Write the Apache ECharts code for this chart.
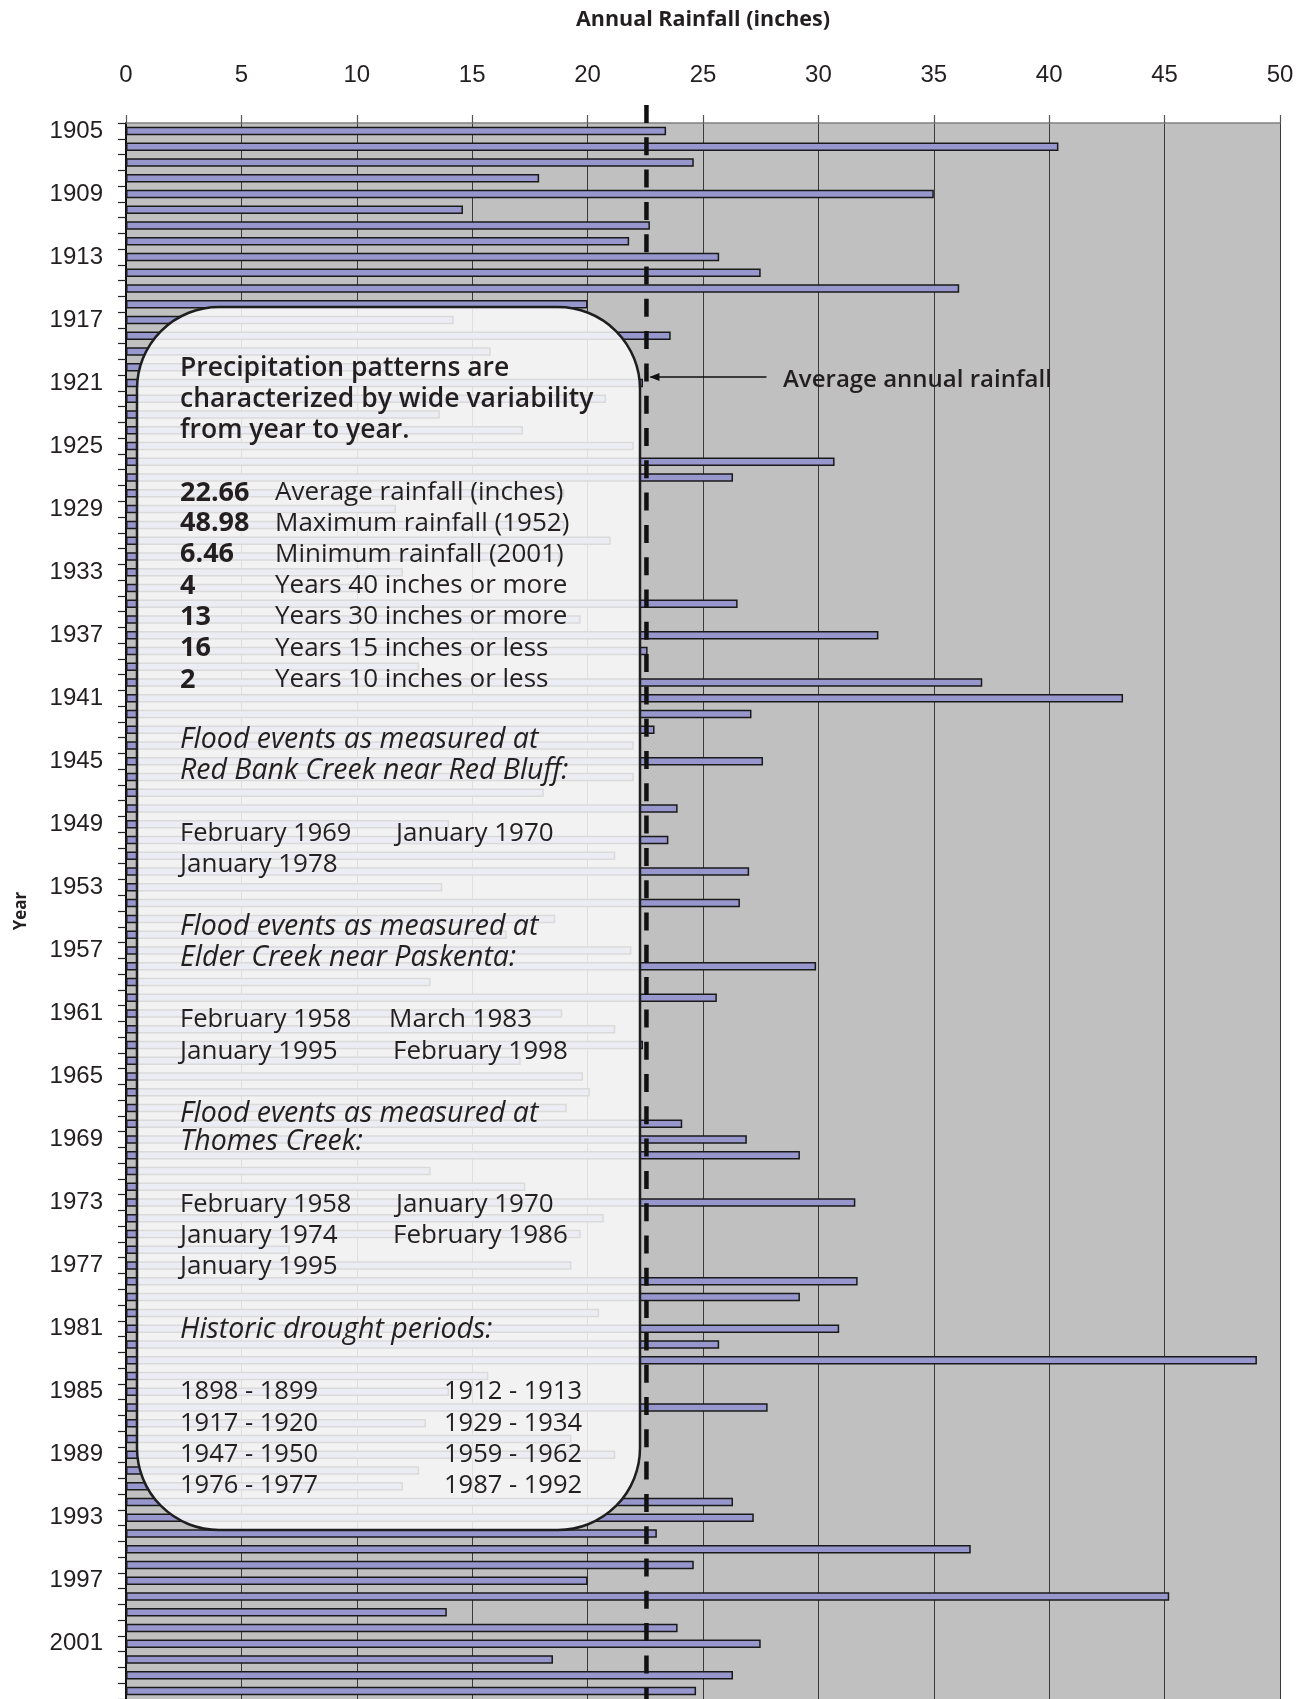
<!DOCTYPE html>
<html>
<head>
<meta charset="utf-8">
<script src="https://cdn.jsdelivr.net/npm/echarts/dist/echarts.min.js"></script>
<style>
html,body{margin:0;padding:0;background:#ffffff;}
#chart{width:1307px;height:1699px;}
</style>
</head>
<body>
<div id="chart"></div>
<script>
// ---------------- DATA ----------------
const years = ['1905','1906','1907','1908','1909','1910','1911','1912','1913','1914',
'1915','1916','1917','1918','1919','1920','1921','1922','1923','1924',
'1925','1926','1927','1928','1929','1930','1931','1932','1933','1934',
'1935','1936','1937','1938','1939','1940','1941','1942','1943','1944',
'1945','1946','1947','1948','1949','1950','1951','1952','1953','1954',
'1955','1956','1957','1958','1959','1960','1961','1962','1963','1964',
'1965','1966','1967','1968','1969','1970','1971','1972','1973','1974',
'1975','1976','1977','1978','1979','1980','1981','1982','1983','1984',
'1985','1986','1987','1988','1989','1990','1991','1992','1993','1994',
'1995','1996','1997','1998','1999','2000','2001','2002','2003','2004'];

const rainfall = [23.4,40.4,24.6,17.9,35.0,14.6,22.7,21.8,25.7,27.5,
36.1,20.0,14.2,23.6,15.8,12.0,22.4,20.8,13.6,17.2,
22.0,30.7,26.3,19.0,11.7,19.0,21.0,18.8,12.0,10.5,
26.5,19.7,32.6,22.6,12.7,37.1,43.2,27.1,22.9,22.0,
27.6,22.0,18.1,23.9,14.0,23.5,21.2,27.0,13.7,26.6,
18.6,16.5,21.9,29.9,13.2,25.6,18.9,21.2,22.4,17.1,
19.8,20.1,19.1,24.1,26.9,29.2,13.2,17.3,31.6,20.7,
19.7,7.1,19.3,31.7,29.2,20.5,30.9,25.7,49.0,15.7,
14.0,27.8,13.0,19.3,21.2,12.7,12.0,26.3,27.2,23.0,
36.6,24.6,20.0,45.2,13.9,23.9,27.5,18.5,26.3,24.7];

const xMin = 0, xMax = 50, xStep = 5;
const averageLineValue = 22.55;   // where the dashed average line is drawn

const annotationText = 'Average annual rainfall';
const headerLines = ['Precipitation patterns are','characterized by wide variability','from year to year.'];
const statNumbers = ['22.66','48.98','6.46','4','13','16','2'];
const statLabels = ['Average rainfall (inches)','Maximum rainfall (1952)','Minimum rainfall (2001)',
  'Years 40 inches or more','Years 30 inches or more','Years 15 inches or less','Years 10 inches or less'];
const redBankTitle = ['Flood events as measured at','Red Bank Creek near Red Bluff:'];
const redBankEvents = [['February 1969','January 1970'],['January 1978','']];
const elderTitle = ['Flood events as measured at','Elder Creek near Paskenta:'];
const elderEvents = [['February 1958','March 1983'],['January 1995','February 1998']];
const thomesTitle = ['Flood events as measured at','Thomes Creek:'];
const thomesEvents = [['February 1958','January 1970'],['January 1974','February 1986'],['January 1995','']];
const droughtTitle = 'Historic drought periods:';
const droughtPeriods = [['1898 - 1899','1912 - 1913'],['1917 - 1920','1929 - 1934'],['1947 - 1950','1959 - 1962'],['1976 - 1977','1987 - 1992']];

// ---------------- CHART ----------------
const chart = echarts.init(document.getElementById('chart'), null, {renderer:'canvas', width:1307, height:1699});
const TXT = '#231f20';
const tickFont = '"Liberation Sans", Arial, sans-serif';
const boxFont = '"Open Sans", "Noto Sans", sans-serif';

const option = {
  animation:false,
  backgroundColor:'#ffffff',
  grid:{left:126, right:27, top:123, bottom:0, show:true, backgroundColor:'#c0c0c0', borderWidth:0},
  xAxis:{
    type:'value', position:'top', min:xMin, max:xMax, interval:xStep,
    name:'Annual Rainfall (inches)', nameLocation:'middle', nameGap:92,
    nameTextStyle:{fontFamily:boxFont, fontSize:21.5, fontWeight:'bold', color:TXT},
    axisLine:{show:true, lineStyle:{color:'#808080', width:1.5}},
    axisTick:{show:true, length:8, lineStyle:{color:'#555', width:1.2}},
    axisLabel:{fontFamily:tickFont, fontSize:24, color:TXT, margin:36},
    splitLine:{show:true, lineStyle:{color:'#3a3a3a', width:1}}
  },
  yAxis:{
    type:'category', data:years, inverse:true,
    name:'Year', nameLocation:'middle', nameGap:96, nameRotate:90,
    nameTextStyle:{fontFamily:boxFont, fontSize:17, fontWeight:'bold', color:TXT},
    axisLine:{show:true, lineStyle:{color:'#111', width:2}},
    axisTick:{show:true, interval:0, length:8, lineStyle:{color:'#222', width:1.2}},
    axisLabel:{interval:3, fontFamily:tickFont, fontSize:24, color:TXT, margin:23},
    splitLine:{show:false}
  },
  series:[{
    type:'bar', data:rainfall, barWidth:8.5,
    itemStyle:{color:'#9897cd', borderColor:'#1a1a1a', borderWidth:1.5},
    z:2
  }]
};
chart.setOption(option);

// ---------- overlay annotations ----------
const xAvg = chart.convertToPixel({xAxisIndex:0}, averageLineValue);
const g = [];
function txt(x, y, s, opts){
  opts = opts || {};
  g.push({type:'text', x:x, y:y, z:30, silent:true, style:{
    text:s, fill:TXT, fontFamily:boxFont,
    fontSize:opts.size || 26, fontWeight:opts.weight || 'normal', fontStyle:opts.style || 'normal',
    textVerticalAlign:'middle', textAlign:'left'
  }});
}
// rounded box
g.push({type:'rect', z:25, silent:true, shape:{x:137, y:307, width:503, height:1223, r:82},
  style:{fill:'rgba(250,250,250,0.86)', stroke:'#1e1e1e', lineWidth:2.5}});
// dashed average line
g.push({type:'line', z:28, silent:true, shape:{x1:xAvg, y1:105, x2:xAvg, y2:1699},
  style:{stroke:'#111111', lineWidth:4.5, lineDash:[18,14.3]}});
// arrow + label
g.push({type:'line', z:28, silent:true, shape:{x1:xAvg+120, y1:377, x2:xAvg+4, y2:377},
  style:{stroke:'#111', lineWidth:1.5}});
g.push({type:'polygon', z:28, silent:true, shape:{points:[[xAvg+3,377],[xAvg+13,373],[xAvg+13,381]]},
  style:{fill:'#111'}});
txt(783, 380, annotationText, {size:24, weight:600});

// text in box
const X1 = 180;
const headerY = [368, 399.5, 430];
headerLines.forEach((s,i)=>txt(X1, headerY[i], s, {weight:600, size:26.5}));
const statY = [493, 523.5, 554.5, 586, 617, 648.5, 680];
statNumbers.forEach((s,i)=>{ txt(X1, statY[i], s, {weight:'bold', size:27}); txt(275, statY[i], statLabels[i]); });
const IT = {style:'italic', size:28.5};
txt(X1, 739.5, redBankTitle[0], IT);
txt(X1, 771, redBankTitle[1], IT);
txt(X1, 834, redBankEvents[0][0], {size:25.5}); txt(396, 834, redBankEvents[0][1]);
txt(X1, 865, redBankEvents[1][0]);
txt(X1, 926.5, elderTitle[0], IT);
txt(X1, 957.5, elderTitle[1], IT);
txt(X1, 1020, elderEvents[0][0], {size:25.5}); txt(389, 1020, elderEvents[0][1]);
txt(X1, 1051.5, elderEvents[1][0]); txt(393, 1051.5, elderEvents[1][1]);
txt(X1, 1113.5, thomesTitle[0], IT);
txt(X1, 1142, thomesTitle[1], IT);
txt(X1, 1204.5, thomesEvents[0][0], {size:25.5}); txt(396, 1204.5, thomesEvents[0][1]);
txt(X1, 1236, thomesEvents[1][0]); txt(393, 1236, thomesEvents[1][1]);
txt(X1, 1267, thomesEvents[2][0]);
txt(X1, 1330, droughtTitle, IT);
const dY = [1392, 1423.5, 1454.5, 1486];
droughtPeriods.forEach((p,i)=>{ txt(X1, dY[i], p[0], {size:25.5}); txt(444, dY[i], p[1], {size:25.5}); });

chart.setOption({graphic:g});
</script>
</body>
</html>
